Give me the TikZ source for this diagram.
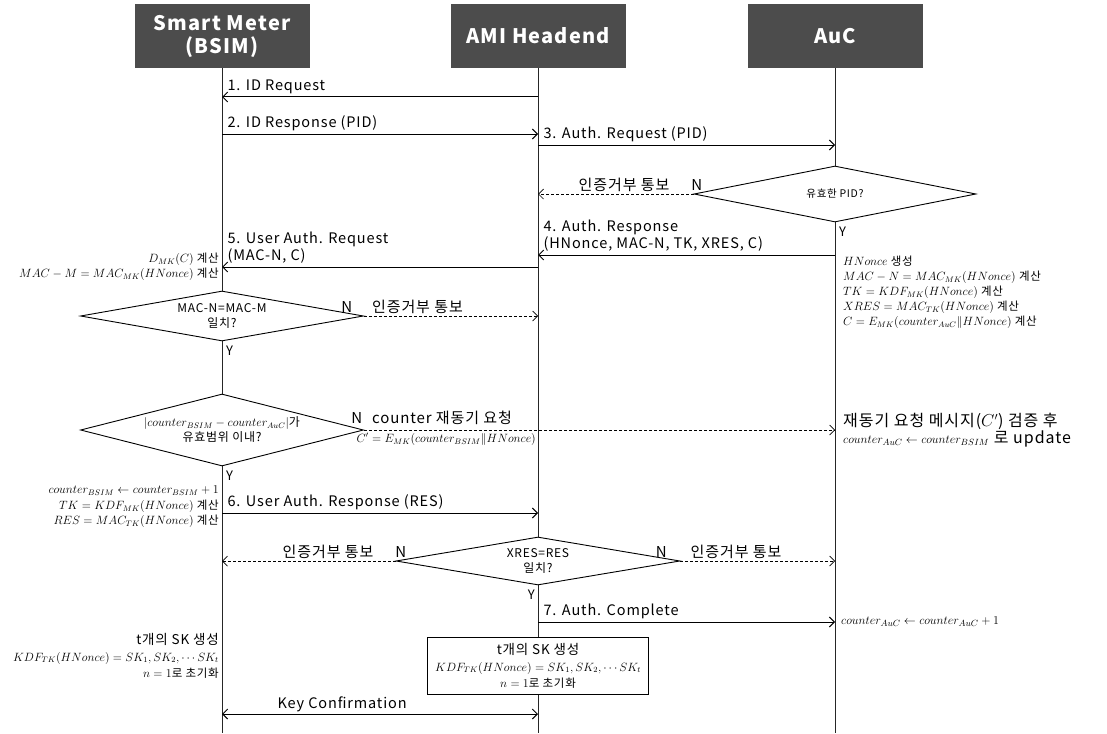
\documentclass[tikz,border=0pt]{standalone}
\usepackage{amsmath,amssymb}
\usepackage{fontspec}
\setmainfont{Noto Sans CJK KR}[LetterSpace=6]
\usetikzlibrary{arrows.meta,shapes.geometric,positioning}

\tikzset{
  actor/.style={fill=black!70, text=white, font=\fontsize{20}{23}\selectfont\bfseries,
    minimum width=175pt, minimum height=64pt, align=center, inner sep=0pt},
  life/.style={line width=0.9pt, black!85},
  msg/.style={line width=1pt, -{Straight Barb[length=5pt,width=10pt]}},
  deny/.style={msg, line width=0.7pt, dash pattern=on 3pt off 2pt},
  lbl/.style={font=\fontsize{14.5}{17}\selectfont, inner sep=1pt, align=left},
  kor/.style={font=\fontsize{15}{17}\selectfont, inner sep=1pt},
  calc/.style={font=\fontsize{11.5}{15}\selectfont, inner sep=0pt},
  cond/.style={diamond, draw, fill=white, line width=0.9pt, inner sep=0pt, aspect=4,
    font=\fontsize{12}{15}\selectfont, align=center},
  yn/.style={font=\fontsize{13}{15}\selectfont, inner sep=1pt}
}

\begin{document}
\begin{tikzpicture}[x=1pt, y=-1pt]
  \useasboundingbox (0,0) rectangle (1107,733);

  % actors
  \node[actor] (sm)  at (222,36) {Smart Meter\\(BSIM)};
  \node[actor] (ami) at (538,36) {AMI Headend};
  \node[actor] (auc) at (835,36) {AuC};

  % rows
  \foreach \n/\y in {m1/97, m2/134, m3/145, d1row/194, m4/255, m5/267, d2row/316,
                     d3row/430, m6/513, d4row/561, m7/622, boxrow/666, kc/714, bot/733}
    \coordinate (\n) at (0,\y);

  % lifelines
  \foreach \a in {sm,ami,auc}
    \draw[life] (\a.south) -- (\a |- bot);

  % 1--3
  \draw[msg] (ami |- m1) -- (sm |- m1)
    node[lbl, at end, anchor=south west, xshift=4pt, yshift=2pt] {1. ID Request};
  \draw[msg] (sm |- m2) -- (ami |- m2)
    node[lbl, at start, anchor=south west, xshift=4pt, yshift=2pt] {2. ID Response (PID)};
  \draw[msg] (ami |- m3) -- (auc |- m3)
    node[lbl, at start, anchor=south west, xshift=4pt, yshift=2pt] {3. Auth. Request (PID)};

  % PID check
  \node[cond, minimum width=282pt, minimum height=56pt, font=\fontsize{10.5}{12}\selectfont]
    (d1) at (auc |- d1row) {유효한 PID?};
  \draw[deny] (d1.west) -- (ami |- d1)
    node[kor, at start, anchor=south east, xshift=10pt, yshift=1pt] {인증거부 통보\hspace{22pt}N};
  \node[yn, anchor=north west, xshift=3pt, yshift=-3pt] (y1) at (d1.south) {Y};

  % 4, 5
  \draw[msg] (auc |- m4) -- (ami |- m4)
    node[lbl, at end, anchor=south west, xshift=4pt, yshift=2pt] {4. Auth. Response\\(HNonce, MAC-N, TK, XRES, C)};
  \node[calc, anchor=north west, align=left, xshift=8pt, yshift=-1pt] (gen) at (auc |- m4)
    {$HNonce$ 생성\\
     $MAC-N=MAC_{MK}(HNonce)$ 계산\\
     $TK=KDF_{MK}(HNonce)$ 계산\\
     $XRES=MAC_{TK}(HNonce)$ 계산\\
     $C=E_{MK}(counter_{AuC}\Vert HNonce)$ 계산};
  \draw[msg] (ami |- m5) -- (sm |- m5)
    node[lbl, at end, anchor=south west, xshift=4pt, yshift=2pt] {5. User Auth. Request\\(MAC-N, C)};
  \node[calc, anchor=east, align=right, xshift=-3pt] (dec) at (sm |- m5)
    {$D_{MK}(C)$ 계산\\$MAC-M=MAC_{MK}(HNonce)$ 계산};

  % MAC check
  \node[cond, minimum width=283pt, minimum height=50pt] (d2) at (sm |- d2row) {MAC-N=MAC-M\\일치?};
  \draw[deny] (d2.east) -- (ami |- d2)
    node[kor, at start, anchor=south west, xshift=-24pt, yshift=1pt] {N\hspace{20pt}인증거부 통보};
  \node[yn, anchor=north west, xshift=3pt, yshift=-3pt] (y2) at (d2.south) {Y};

  % counter check
  \node[cond, minimum width=283pt, minimum height=72pt] (d3) at (sm |- d3row)
    {$|counter_{BSIM}-counter_{AuC}|$가\\유효범위 이내?};
  \draw[deny] (d3.east) -- (auc |- d3)
    node[kor, at start, anchor=south west, xshift=-14pt, yshift=4pt] {N\hspace{10pt}counter 재동기 요청};
  \node[calc, anchor=north east, xshift=-2pt, yshift=-3pt] (cprime) at (ami |- d3)
    {$C'=E_{MK}(counter_{BSIM}\Vert HNonce)$};
  \node[calc, anchor=west, align=left, xshift=8pt, font=\fontsize{16}{17}\selectfont] (sync) at (auc |- d3)
    {재동기 요청 메시지($C'$) 검증 후\\{\fontsize{13}{13}\selectfont$counter_{AuC}\leftarrow counter_{BSIM}$} 로 update};
  \node[yn, anchor=north west, xshift=3pt, yshift=-3pt] (y3) at (d3.south) {Y};

  % 6
  \draw[msg] (sm |- m6) -- (ami |- m6)
    node[lbl, at start, anchor=south west, xshift=4pt, yshift=2pt] {6. User Auth. Response (RES)};
  \node[calc, anchor=east, align=right, xshift=-3pt, yshift=6pt, font=\fontsize{11.5}{15.5}\selectfont]
    (upd) at (sm |- m6)
    {$counter_{BSIM}\leftarrow counter_{BSIM}+1$\\
     $TK=KDF_{MK}(HNonce)$ 계산\\
     $RES=MAC_{TK}(HNonce)$ 계산};

  % RES check
  \node[cond, minimum width=284pt, minimum height=48pt] (d4) at (ami |- d4row) {XRES=RES\\일치?};
  \draw[deny] (d4.west) -- (sm |- d4)
    node[kor, at start, anchor=south east, xshift=12pt, yshift=1pt] {인증거부 통보\hspace{22pt}N};
  \draw[deny] (d4.east) -- (auc |- d4)
    node[kor, at start, anchor=south west, xshift=-26pt, yshift=1pt] {N\hspace{24pt}인증거부 통보};
  \node[yn, anchor=north east, xshift=-2pt, yshift=-3pt] (y4) at (d4.south) {Y};

  % 7
  \draw[msg] (ami |- m7) -- (auc |- m7)
    node[lbl, at start, anchor=south west, xshift=4pt, yshift=2pt] {7. Auth. Complete};
  \node[calc, anchor=west, xshift=6pt, font=\fontsize{12.5}{15}\selectfont] (inc) at (auc |- m7)
    {$counter_{AuC}\leftarrow counter_{AuC}+1$};

  % session keys
  \node[calc, anchor=east, align=right, xshift=-3pt, yshift=10pt, font=\fontsize{11.5}{16.5}\selectfont]
    (skl) at (sm |- boxrow)
    {{\fontsize{13.5}{16}\selectfont t개의 SK 생성}\\
     $KDF_{TK}(HNonce)=SK_1,SK_2,\cdots SK_t$\\
     $n=1$로 초기화};
  \node[calc, draw, fill=white, line width=0.9pt, align=center, inner xsep=8pt, inner ysep=6pt,
    font=\fontsize{11.5}{16.5}\selectfont] (skbox) at (ami |- boxrow)
    {{\fontsize{13.5}{16}\selectfont t개의 SK 생성}\\
     $KDF_{TK}(HNonce)=SK_1,SK_2,\cdots SK_t$\\
     $n=1$로 초기화};

  % key confirmation
  \draw[msg, {Straight Barb[length=5pt,width=10pt]}-{Straight Barb[length=5pt,width=10pt]}]
    (sm |- kc) -- (ami |- kc) node[lbl, pos=0.38, above, yshift=1pt] {Key Confirmation};
\end{tikzpicture}
\end{document}
